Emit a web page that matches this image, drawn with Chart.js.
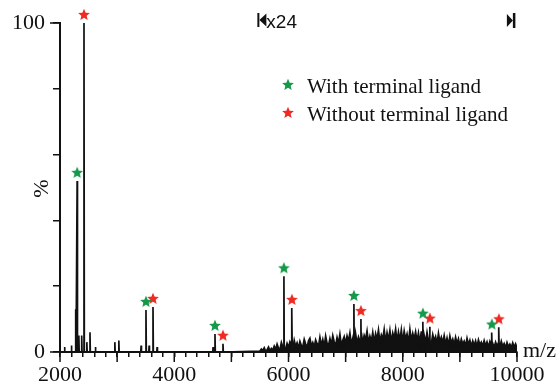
<!DOCTYPE html>
<html>
<head>
<meta charset="utf-8">
<script src="https://cdn.jsdelivr.net/npm/chart.js@4.4.1/dist/chart.umd.min.js"></script>
<style>
  html, body { margin: 0; padding: 0; background: #fff; }
  canvas { display: block; }
</style>
</head>
<body>
<canvas id="chart" width="559" height="385"></canvas>
<script>
// ---------- DATA ----------
// peaks marked with a green star
const withLigandMz  = [2300, 3505, 4713, 5920, 7145, 8353, 9560];
const withLigandPct = [52, 12.8, 5.5, 23, 14.6, 9.2, 5.9];
// peaks marked with a red star
const withoutLigandMz  = [2420, 3628, 4853, 6060, 7268, 8475, 9683];
const withoutLigandPct = [100, 13.7, 2.5, 13.4, 10, 7.7, 7.5];
// small unmarked peaks
const minorMz  = [2080, 2200, 2275, 2330, 2380, 2470, 2525, 2620, 2960, 3030, 3420, 3560, 3700, 4680];
const minorPct = [1.5, 2, 13, 5, 5, 3, 6, 1.5, 3, 3.5, 2, 2, 1.5, 1.5];
// x24 magnified noisy region, one value every 25 m/z from 5500
const noiseStart = 5500;
const noiseStep = 25;
const noisePct = [
  0.3,0.9,0.5,1.3,0.2,0.7,1.5,0.4,1.1,0.6,
  1.8,0.8,2.4,1.2,0.7,2.9,1.5,2.1,0.9,2.6,
  1.4,3.1,2.2,1.0,3.6,1.7,2.8,1.2,3.3,2.0,
  1.6,3.9,2.5,1.3,3.4,4.2,1.9,2.9,1.5,3.7,
  2.6,1.7,4.5,2.0,3.8,1.6,4.9,2.7,1.9,4.1,
  2.2,5.0,3.1,1.9,4.4,2.6,5.4,2.1,3.6,4.7,
  2.5,4.9,3.3,5.8,2.3,4.2,2.9,5.5,2.6,4.6,
  3.4,5.9,2.7,5.1,3.9,6.4,2.8,4.8,3.2,6.0,
  2.9,5.6,3.8,6.7,3.1,5.2,4.0,6.9,3.0,5.9,
  3.6,6.6,2.9,5.8,4.1,7.0,3.2,6.1,3.5,6.8,
  3.0,6.4,3.9,5.5,2.8,6.9,3.4,5.7,4.0,6.2,
  3.3,5.8,2.7,6.3,3.6,5.1,2.9,6.0,3.5,5.4,
  2.6,5.3,3.4,4.7,2.5,5.7,3.1,4.5,2.8,5.0,
  2.4,4.3,2.0,4.9,2.7,3.9,2.2,4.5,2.5,4.0,
  1.9,3.9,2.4,3.3,1.8,4.2,2.3,3.6,1.7,3.4,
  2.0,3.4,1.6,3.7,2.2,3.0,1.8,3.5,1.9,3.1,
  1.5,3.2,1.9,2.6,1.4,3.0,1.8,2.8,1.6,3.3,
  1.7,2.6,1.3,2.9,1.6,2.4,1.4,2.8,1.5,2.5,
  1.3
];
const xTickLabels = [2000, 4000, 6000, 8000, 10000];
const yTickLabels = [0, 100];
const legendLabels = ["With terminal ligand", "Without terminal ligand"];

const GREEN = "#14994a";
const RED = "#ee2a22";
const SERIF = "'Liberation Serif', 'DejaVu Serif', serif";

// ---------- spectrum trace ----------
const trace = [{ x: 2000, y: 0 }];
function addStick(m, h) {
  trace.push({ x: m - 6, y: 0 }, { x: m, y: h }, { x: m + 6, y: 0 });
}
withLigandMz.forEach((m, i) => addStick(m, withLigandPct[i]));
withoutLigandMz.forEach((m, i) => addStick(m, withoutLigandPct[i]));
minorMz.forEach((m, i) => addStick(m, minorPct[i]));
noisePct.forEach((v, i) => trace.push({ x: noiseStart + i * noiseStep, y: v }));
trace.sort((a, b) => a.x - b.x);

// star marker, drawn in the top of a taller image so it sits above the peak
function starImage(color) {
  const c = document.createElement("canvas");
  c.width = 14; c.height = 30;
  const g = c.getContext("2d");
  g.fillStyle = color;
  g.beginPath();
  for (let i = 0; i < 10; i++) {
    const r = i % 2 ? 2.8 : 6.2;
    const a = -Math.PI / 2 + i * Math.PI / 5;
    g.lineTo(7 + r * Math.cos(a), 7 + r * Math.sin(a));
  }
  g.closePath();
  g.fill();
  return c;
}
const greenStar = starImage(GREEN);
const redStar = starImage(RED);

// ---------- extra drawing: long ticks, axis titles, legend, x24 marks ----------
const overlay = {
  id: "overlay",
  afterDraw(chart) {
    const { ctx, scales: { x, y } } = chart;
    ctx.save();
    ctx.strokeStyle = "#111";
    ctx.lineWidth = 1.5;
    ctx.beginPath();
    for (let v = 2000; v <= 10000; v += 1000) {
      const px = x.getPixelForValue(v);
      ctx.moveTo(px, y.bottom); ctx.lineTo(px, y.bottom + 10);
    }
    yTickLabels.forEach(v => {
      const py = y.getPixelForValue(v);
      ctx.moveTo(x.left - 10, py); ctx.lineTo(x.left, py);
    });
    ctx.stroke();

    ctx.fillStyle = "#111";
    ctx.font = "22px " + SERIF;
    ctx.textBaseline = "alphabetic";
    ctx.textAlign = "left";
    ctx.fillText("m/z", x.right + 6, y.bottom + 5);

    ctx.save();
    ctx.translate(48, y.getPixelForValue(50) + 1);
    ctx.rotate(-Math.PI / 2);
    ctx.textAlign = "center";
    ctx.fillText("%", 0, 0);
    ctx.restore();

    // legend
    ctx.font = "21px " + SERIF;
    ctx.fillStyle = "#111";
    [greenStar, redStar].forEach((img, i) => {
      const cy = 85 + i * 28;
      ctx.drawImage(img, 281, cy - 7);
      ctx.fillText(legendLabels[i], 307, cy + 8);
    });

    // x24 magnification marks
    ctx.fillStyle = "#111";
    const lx = x.getPixelForValue(5455);
    ctx.fillRect(lx, 13, 2, 14);
    ctx.beginPath();
    ctx.moveTo(lx + 2, 20); ctx.lineTo(lx + 9, 13.5); ctx.lineTo(lx + 9, 26.5); ctx.closePath();
    ctx.fill();
    ctx.font = "19px 'Liberation Sans', Arial, sans-serif";
    ctx.fillText("x24", lx + 9, 28);
    const rx = x.getPixelForValue(9963);
    ctx.fillRect(rx - 2, 13, 2.5, 15);
    ctx.beginPath();
    ctx.moveTo(rx - 2, 20.5); ctx.lineTo(rx - 8, 14); ctx.lineTo(rx - 8, 27); ctx.closePath();
    ctx.fill();
    ctx.restore();
  }
};

// ---------- CHART ----------
const ctx = document.getElementById("chart");
new Chart(ctx, {
  type: "scatter",
  data: {
    datasets: [
      {
        label: legendLabels[0],
        data: withLigandMz.map((m, i) => ({ x: m, y: withLigandPct[i] })),
        pointStyle: greenStar,
        clip: false
      },
      {
        label: legendLabels[1],
        data: withoutLigandMz.map((m, i) => ({ x: m, y: withoutLigandPct[i] })),
        pointStyle: redStar,
        clip: false
      },
      {
        label: "spectrum",
        data: trace,
        showLine: true,
        borderColor: "#111",
        borderWidth: 1.7,
        backgroundColor: "#111",
        fill: "origin",
        pointRadius: 0,
        tension: 0
      }
    ]
  },
  options: {
    responsive: false,
    animation: false,
    devicePixelRatio: 1,
    layout: { padding: { left: 0, top: 23, right: 42, bottom: 0 } },
    plugins: { legend: { display: false }, tooltip: { enabled: false } },
    scales: {
      x: {
        type: "linear",
        min: 2000,
        max: 10000,
        afterFit: s => { s.height = 33; },
        border: { display: true, color: "#111", width: 2 },
        grid: { drawOnChartArea: false, drawTicks: true, tickLength: 5, color: "#111", lineWidth: 1.5 },
        ticks: {
          stepSize: 200,
          autoSkip: false,
          maxRotation: 0,
          padding: 5,
          color: "#111",
          font: { family: SERIF, size: 22 },
          callback: v => xTickLabels.includes(v) ? String(v) : ""
        }
      },
      y: {
        type: "linear",
        min: 0,
        max: 100,
        afterFit: s => { s.width = 60; },
        border: { display: true, color: "#111", width: 2 },
        grid: { drawOnChartArea: false, drawTicks: true, tickLength: 7, color: "#111", lineWidth: 1.5 },
        ticks: {
          stepSize: 20,
          padding: 8,
          color: "#111",
          font: { family: SERIF, size: 22 },
          callback: v => yTickLabels.includes(v) ? String(v) : ""
        }
      }
    }
  },
  plugins: [overlay]
});
</script>
</body>
</html>
